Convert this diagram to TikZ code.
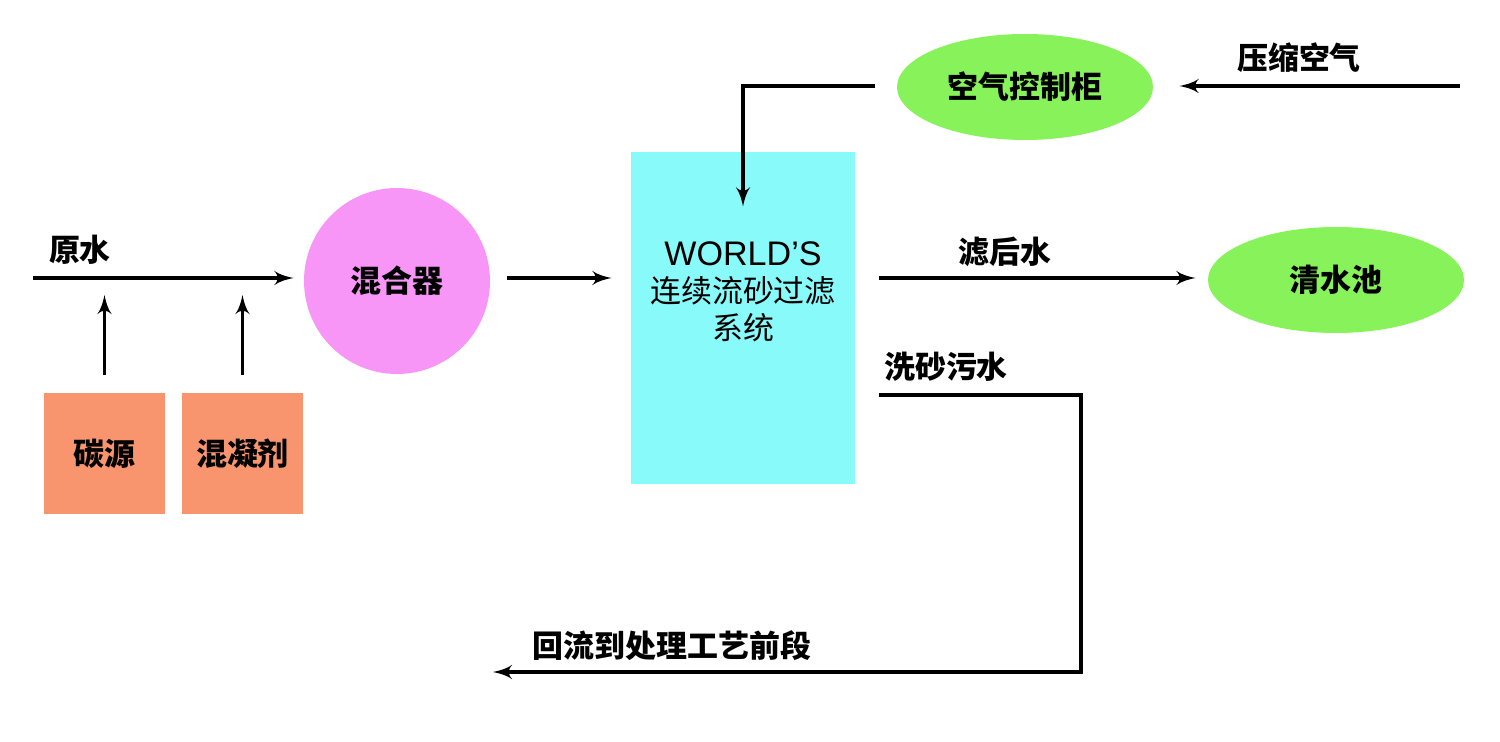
\documentclass[tikz,border=0pt]{standalone}
\usepackage{fontspec}
\setmainfont{Liberation Sans}
\newfontfamily\cjk{Noto Sans CJK SC}
\usepackage{tikz}
\usetikzlibrary{arrows,shapes.geometric}
\definecolor{srcfill}{HTML}{F8956E}
\definecolor{mixfill}{HTML}{F796F6}
\definecolor{filtfill}{HTML}{88FAF9}
\definecolor{greenfill}{HTML}{88F25A}
\tikzset{
  base/.style = {align=center, inner sep=0pt, text centered,
    font=\cjk\bfseries\fontsize{8.8}{10.5}\selectfont},
  lbl/.style = {base},% flow label
  src/.style = {base, rectangle, fill=srcfill,
    minimum width=1.21cm, minimum height=1.21cm},% dosing box
  mix/.style = {base, circle, fill=mixfill, minimum size=1.86cm},% mixer
  filt/.style = {base, rectangle, fill=filtfill,
    minimum width=2.24cm, minimum height=3.32cm},% filter box
  grn/.style = {base, ellipse, fill=greenfill,
    minimum width=2.56cm, minimum height=1.06cm},% green ellipse
  ftxt/.style = {align=center, inner sep=0pt,
    font=\cjk\fontsize{8.8}{10.5}\selectfont}% filter text
}
\begin{document}
\begin{tikzpicture}[->,>=latex',line width=0.9pt]
\useasboundingbox (0,0) rectangle (15,-7.42);
% units
\node [src] (carbon) at (1.045,-4.535) {碳源};
\node [src] (coag) at (2.425,-4.535) {混凝剂};
\node [mix] (mixer) at (3.97,-2.81) {混合器};
\node [filt] (filter) at (7.43,-3.18) {};
\node [ftxt] (filtlbl) at ([yshift=0.26cm]filter.center)
  {{\rmfamily\fontsize{9.7}{11}\selectfont WORLD’S}\\连续流砂过滤\\系统};
\node [grn] (aircab) at (10.25,-0.87) {空气控制柜};
\node [grn] (pool) at (13.36,-2.80) {清水池};
% labels
\node [lbl] (rawlbl) at (0.80,-2.50) {原水};
\node [lbl] (airlbl) at (12.99,-0.58) {压缩空气};
\node [lbl] (outlbl) at (10.05,-2.52) {滤后水};
\node [lbl] (washlbl) at (9.46,-3.67) {洗砂污水};
\node [lbl] (backlbl) at (6.72,-6.46) {回流到处理工艺前段};
% free ends
\coordinate (rawin) at (0.33,-2.78);
\coordinate (airin) at (14.60,-0.86);
\coordinate (wash) at (10.81,-3.95);
\coordinate (back) at (4.93,-6.72);
% flows
\draw [shorten >=0.09cm] (rawin) -- (rawin -| mixer.west);
\draw [shorten <=0.16cm, shorten >=0.17cm] (carbon.north) -- (carbon.north |- rawin);
\draw [shorten <=0.16cm, shorten >=0.17cm] (coag.north) -- (coag.north |- rawin);
\draw [shorten <=0.15cm, shorten >=0.18cm] (mixer.east |- rawin) -- (filter.west |- rawin);
\draw [shorten >=0.25cm] (airin) -- (aircab.east |- airin);
\draw [shorten <=0.20cm] (aircab.west |- airin) -| ([yshift=-0.56cm]filter.north);
\draw [shorten <=0.22cm, shorten >=0.11cm] (filter.east |- rawin) -- (pool.west |- rawin);
\draw [shorten <=0.22cm] (filter.east |- wash) -- (wash) |- (back);
\end{tikzpicture}
\end{document}
